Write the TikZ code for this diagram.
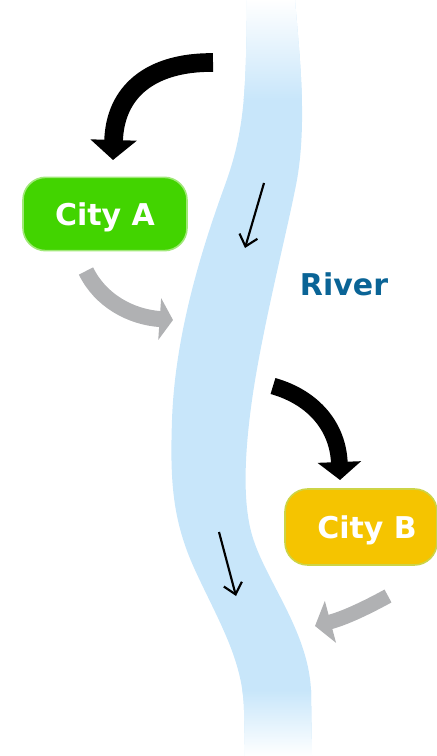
\documentclass[tikz,border=0pt]{standalone}
\usepackage{fontspec}
\setmainfont{DejaVu Sans}
\usetikzlibrary{arrows.meta}
\definecolor{riverblue}{RGB}{200,230,250}
\definecolor{cityagreen}{RGB}{66,212,0}
\definecolor{cityaedge}{RGB}{160,232,120}
\definecolor{citybyellow}{RGB}{245,196,0}
\definecolor{citybedge}{RGB}{205,212,70}
\definecolor{rivertext}{RGB}{10,100,150}
\definecolor{flowgray}{RGB}{176,177,179}
\begin{document}
\begin{tikzpicture}[x=0.75pt,y=-0.75pt,
  labelfont/.style={font=\fontsize{22.5pt}{27pt}\selectfont\bfseries},
  citybox/.style={rounded corners=17pt, line width=1.2pt, text=white, labelfont,
    inner sep=0pt, text height=16.5pt, text depth=0pt},
  bigflow/.style={line width=#1},
  flowtip/.style 2 args={-{Triangle[length=#1,width=#2]}},
  currentarrow/.style={black, line width=1.6pt, -{Straight Barb[length=8pt,width=14pt]}}]
\useasboundingbox (0,0) rectangle (436,756);

% the river, fading out at its upper and lower ends
\begin{scope}
  \clip (247,0) .. controls (246,90) and (245,130) .. (225,185)
    .. controls (205,240) and (175,330) .. (172,420)
    .. controls (170,480) and (172,520) .. (195,570)
    .. controls (218,620) and (243,660) .. (244,710)
    -- (245,756) -- (312,756) -- (311,690)
    .. controls (308,630) and (265,580) .. (252,535)
    .. controls (242,500) and (245,450) .. (252,400)
    .. controls (262,330) and (285,240) .. (295,190)
    .. controls (308,130) and (300,60) .. (295,0) -- cycle;
  \fill[riverblue] (0,0) rectangle (436,756);
  \shade[top color=white, bottom color=riverblue] (0,0) rectangle (436,100);
  \shade[top color=riverblue, bottom color=white] (0,690) rectangle (436,756);
\end{scope}

% labels
\node[citybox, fill=cityagreen, draw=cityaedge, minimum width=123pt,
  minimum height=55pt] (cityA) at (105,214) {City A};
\node[citybox, fill=citybyellow, draw=citybedge, minimum width=114pt,
  minimum height=57pt] (cityB) at (361,527) {\hspace{9pt}City B};
\node[labelfont, text=rivertext, inner sep=0pt] (river) at (344,284) {River};

% flow arrows
\coordinate (inAs) at (213,62.5);
\coordinate (inAe) at (113,160);
\draw[bigflow=14pt, flowtip={15pt}{34pt}] (inAs) .. controls (150,62) and (115,92) .. (inAe);

\coordinate (outAs) at (86,271);
\coordinate (outAe) at (173,320);
\draw[flowgray, bigflow=12pt, flowtip={10pt}{31pt}] (outAs) .. controls (100,300) and (130,317) .. (outAe);

\coordinate (inBs) at (273,386);
\coordinate (inBe) at (340,480);
\draw[bigflow=12.5pt, flowtip={13.5pt}{32pt}] (inBs) .. controls (315,398) and (338,428) .. (inBe);

\coordinate (outBs) at (388,596);
\coordinate (outBe) at (315,626);
\draw[flowgray, bigflow=11pt, flowtip={12pt}{32pt}] (outBs) .. controls (366,608) and (345,618) .. (outBe);

% current direction in the river
\coordinate (cur1s) at (264,183);
\coordinate (cur1e) at (245,248);
\draw[currentarrow] (cur1s) -- (cur1e);
\coordinate (cur2s) at (219,532);
\coordinate (cur2e) at (236,596);
\draw[currentarrow] (cur2s) -- (cur2e);
\end{tikzpicture}
\end{document}
